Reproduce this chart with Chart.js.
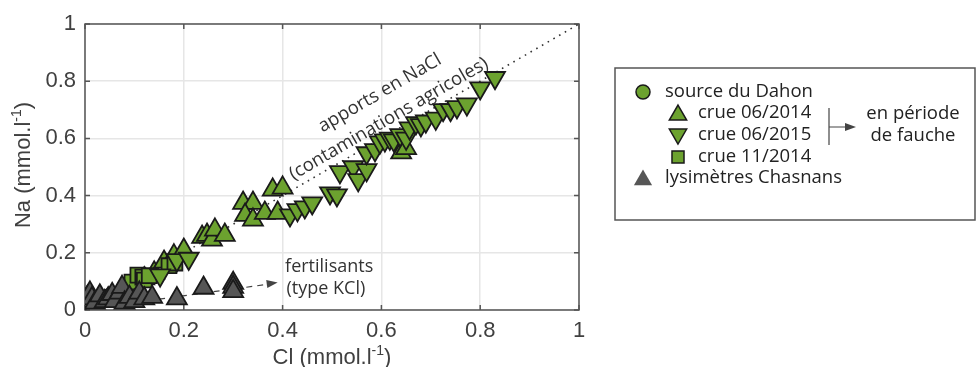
<!DOCTYPE html>
<html>
<head>
<meta charset="utf-8">
<script src="https://cdn.jsdelivr.net/npm/chart.js@4.4.0/dist/chart.umd.min.js"></script>
<style>
  html, body { margin: 0; padding: 0; background: #fff; }
  #wrap { width: 977px; height: 367px; }
</style>
</head>
<body>
<div id="wrap"><canvas id="chart" width="977" height="367"></canvas></div>
<script>
const xTicks = [0, 0.2, 0.4, 0.6, 0.8, 1];
const yTicks = [0, 0.2, 0.4, 0.6, 0.8, 1];

// 1:1 line (Na/Cl of NaCl)
const refCl = [0, 1];
const refNa = [0, 1];

// source du Dahon
const dahonCl = [0.01, 0.03, 0.05];
const dahonNa = [0.035, 0.04, 0.05];

// crue 06/2014
const up14Cl = [0.12, 0.14, 0.16, 0.18, 0.20, 0.237, 0.247, 0.257, 0.263, 0.283, 0.32, 0.34, 0.324, 0.34, 0.364, 0.39, 0.38, 0.40, 0.64, 0.65];
const up14Na = [0.11, 0.13, 0.168, 0.19, 0.21, 0.255, 0.262, 0.245, 0.28, 0.262, 0.374, 0.374, 0.332, 0.315, 0.339, 0.339, 0.42, 0.427, 0.55, 0.565];

// crue 06/2015
const down15Cl = [0.152, 0.186, 0.21, 0.415, 0.43, 0.445, 0.46, 0.496, 0.51, 0.516, 0.543, 0.553, 0.57, 0.57, 0.587, 0.597, 0.607, 0.617, 0.625, 0.638, 0.65, 0.657, 0.67, 0.68, 0.69, 0.71, 0.725, 0.74, 0.753, 0.773, 0.80, 0.83];
const down15Na = [0.122, 0.175, 0.18, 0.332, 0.35, 0.36, 0.374, 0.409, 0.402, 0.483, 0.50, 0.455, 0.49, 0.549, 0.56, 0.587, 0.594, 0.60, 0.594, 0.612, 0.60, 0.636, 0.654, 0.647, 0.66, 0.67, 0.70, 0.70, 0.71, 0.72, 0.776, 0.812];

// crue 11/2014
const nov14Cl = [0.095, 0.107, 0.117, 0.12, 0.13, 0.17, 0.182];
const nov14Na = [0.098, 0.122, 0.115, 0.105, 0.12, 0.155, 0.164];

// lysimètres Chasnans
const lysCl = [0.0, 0.005, 0.01, 0.014, 0.02, 0.03, 0.04, 0.047, 0.055, 0.06, 0.07, 0.075, 0.08, 0.09, 0.10, 0.11, 0.12, 0.136, 0.186, 0.24, 0.30, 0.30, 0.30];
const lysNa = [0.03, 0.045, 0.06, 0.04, 0.025, 0.05, 0.03, 0.04, 0.055, 0.03, 0.06, 0.08, 0.025, 0.045, 0.03, 0.06, 0.04, 0.045, 0.04, 0.077, 0.094, 0.08, 0.065];

const green = '#6ca22f';
const gray = '#565656';
const edge = '#1a1a1a';
const textCol = '#404040';
const humanist = '"Open Sans", "Noto Sans", sans-serif';
const helv = '"Liberation Sans", Arial, sans-serif';

const toPts = (xs, ys) => xs.map((x, i) => ({ x: x, y: ys[i] }));

function withSup(ctx, main, sup, tail, x, y, size) {
    // draws "main" + superscript + "tail" centred at x
    ctx.font = size + 'px ' + helv;
    const w1 = ctx.measureText(main).width;
    const w3 = ctx.measureText(tail).width;
    ctx.font = Math.round(size * 0.65) + 'px ' + helv;
    const w2 = ctx.measureText(sup).width;
    let left = x - (w1 + w2 + w3) / 2;
    ctx.textAlign = 'left';
    ctx.font = size + 'px ' + helv;
    ctx.fillText(main, left, y);
    ctx.font = Math.round(size * 0.65) + 'px ' + helv;
    ctx.fillText(sup, left + w1, y - size * 0.4);
    ctx.font = size + 'px ' + helv;
    ctx.fillText(tail, left + w1 + w2, y);
}

const decorations = {
    id: 'decorations',
    beforeDatasetsDraw(chart) {
        const { ctx, chartArea: a, scales: { x, y } } = chart;
        ctx.save();
        // box + inward ticks
        ctx.strokeStyle = '#555';
        ctx.lineWidth = 1.5;
        ctx.strokeRect(a.left, a.top, a.right - a.left, a.bottom - a.top);
        ctx.beginPath();
        xTicks.forEach(v => {
            const px = x.getPixelForValue(v);
            ctx.moveTo(px, a.bottom); ctx.lineTo(px, a.bottom - 5);
            ctx.moveTo(px, a.top); ctx.lineTo(px, a.top + 5);
        });
        yTicks.forEach(v => {
            const py = y.getPixelForValue(v);
            ctx.moveTo(a.left, py); ctx.lineTo(a.left + 5, py);
            ctx.moveTo(a.right, py); ctx.lineTo(a.right - 5, py);
        });
        ctx.stroke();

        // dashed arrow towards "fertilisants"
        const x0 = x.getPixelForValue(0.15), y0 = y.getPixelForValue(0.038);
        const x1 = x.getPixelForValue(0.39), y1 = y.getPixelForValue(0.096);
        ctx.strokeStyle = '#444';
        ctx.lineWidth = 1.2;
        ctx.setLineDash([6, 5]);
        ctx.beginPath();
        ctx.moveTo(x0, y0);
        ctx.lineTo(x1 - 8, y1 + 1.5);
        ctx.stroke();
        ctx.setLineDash([]);
        const ang = Math.atan2(y1 - y0, x1 - x0);
        ctx.fillStyle = '#444';
        ctx.beginPath();
        ctx.moveTo(x1, y1);
        ctx.lineTo(x1 - 11 * Math.cos(ang) + 4 * Math.sin(ang), y1 - 11 * Math.sin(ang) - 4 * Math.cos(ang));
        ctx.lineTo(x1 - 11 * Math.cos(ang) - 4 * Math.sin(ang), y1 - 11 * Math.sin(ang) + 4 * Math.cos(ang));
        ctx.closePath();
        ctx.fill();
        ctx.restore();
    },
    afterDraw(chart) {
        const { ctx, chartArea: a, scales: { x, y } } = chart;
        ctx.save();
        ctx.fillStyle = textCol;
        ctx.textBaseline = 'alphabetic';

        // axis titles
        withSup(ctx, 'Cl (mmol.l', '-1', ')', (a.left + a.right) / 2, 364, 22);
        ctx.save();
        ctx.translate(30, (a.top + a.bottom) / 2 - 2);
        ctx.rotate(-Math.PI / 2);
        withSup(ctx, 'Na (mmol.l', '-1', ')', 0, 0, 22);
        ctx.restore();

        // annotations
        ctx.fillStyle = '#333';
        ctx.font = '18.5px ' + humanist;
        ctx.textAlign = 'center';
        ctx.textBaseline = 'middle';
        const slope = Math.atan2(y.getPixelForValue(1) - y.getPixelForValue(0), x.getPixelForValue(1) - x.getPixelForValue(0));
        [['apports en NaCl', 0.597, 0.758], ['(contaminations agricoles)', 0.615, 0.668]].forEach(([t, vx, vy]) => {
            ctx.save();
            ctx.translate(x.getPixelForValue(vx), y.getPixelForValue(vy));
            ctx.rotate(slope);
            ctx.fillText(t, 0, 0);
            ctx.restore();
        });
        ctx.textAlign = 'left';
        ctx.font = '18px ' + humanist;
        ctx.fillText('fertilisants', x.getPixelForValue(0.405), y.getPixelForValue(0.150));
        ctx.fillText('(type KCl)', x.getPixelForValue(0.408), y.getPixelForValue(0.073));

        // legend
        const box = { l: 615, t: 68, r: 975, b: 220 };
        ctx.strokeStyle = '#555';
        ctx.lineWidth = 1.5;
        ctx.strokeRect(box.l, box.t, box.r - box.l, box.b - box.t);
        const items = [
            { label: 'source du Dahon', style: 'circle', rot: 0, r: 7, fill: green, mx: 643, tx: 665, ty: 92 },
            { label: 'crue 06/2014', style: 'triangle', rot: 0, r: 10, fill: green, mx: 678, tx: 698, ty: 113 },
            { label: 'crue 06/2015', style: 'triangle', rot: 180, r: 10, fill: green, mx: 678, tx: 698, ty: 135 },
            { label: 'crue 11/2014', style: 'rect', rot: 0, r: 8.5, fill: green, mx: 678, tx: 698, ty: 157 },
            { label: 'lysimètres Chasnans', style: 'triangle', rot: 0, r: 10.5, fill: gray, mx: 643, tx: 665, ty: 178, noEdge: true }
        ];
        ctx.font = '18.5px ' + humanist;
        ctx.textBaseline = 'middle';
        items.forEach(it => {
            ctx.fillStyle = it.fill;
            ctx.strokeStyle = edge;
            Chart.helpers.drawPoint(ctx, { pointStyle: it.style, radius: it.r, rotation: it.rot, borderWidth: it.noEdge ? 0 : 1.8 },
                it.mx, it.ty + (it.style === 'triangle' ? (it.rot ? -1 : 2) : 0));
            ctx.fillStyle = '#222';
            ctx.fillText(it.label, it.tx, it.ty);
        });
        // bracket + arrow
        ctx.strokeStyle = '#444';
        ctx.lineWidth = 1.2;
        ctx.beginPath();
        ctx.moveTo(829, 108); ctx.lineTo(829, 145);
        ctx.moveTo(829, 127); ctx.lineTo(847, 127);
        ctx.stroke();
        ctx.fillStyle = '#444';
        ctx.beginPath();
        ctx.moveTo(856, 127); ctx.lineTo(845, 123); ctx.lineTo(845, 131);
        ctx.closePath();
        ctx.fill();
        ctx.fillStyle = '#222';
        ctx.textAlign = 'center';
        ctx.fillText('en période', 913, 114);
        ctx.fillText('de fauche', 913, 136);
        ctx.restore();
    }
};

const markerBase = { borderColor: edge, borderWidth: 1.8, pointHoverRadius: 10 };

new Chart(document.getElementById('chart').getContext('2d'), {
    type: 'scatter',
    data: {
        datasets: [
            { label: 'lysimètres Chasnans', data: toPts(lysCl, lysNa), pointStyle: 'triangle', pointRadius: 11.5,
              backgroundColor: gray, ...markerBase, order: 1 },
            { label: 'crue 06/2015', data: toPts(down15Cl, down15Na), pointStyle: 'triangle', pointRotation: 180, pointRadius: 11.5,
              backgroundColor: green, ...markerBase, order: 2 },
            { label: 'crue 11/2014', data: toPts(nov14Cl, nov14Na), pointStyle: 'rect', pointRadius: 10.5,
              backgroundColor: green, ...markerBase, order: 3 },
            { label: 'crue 06/2014', data: toPts(up14Cl, up14Na), pointStyle: 'triangle', pointRadius: 11.5,
              backgroundColor: green, ...markerBase, order: 4 },
            { label: 'source du Dahon', data: toPts(dahonCl, dahonNa), pointStyle: 'circle', pointRadius: 7,
              backgroundColor: green, ...markerBase, order: 5 },
            { label: '1:1', data: toPts(refCl, refNa), showLine: true, pointRadius: 0, borderColor: '#333',
              borderWidth: 1.6, borderDash: [1.6, 5], order: 6 }
        ]
    },
    options: {
        responsive: false,
        animation: false,
        devicePixelRatio: 1,
        layout: { padding: { top: 24, right: 398, left: 0, bottom: 0 } },
        plugins: { legend: { display: false }, tooltip: { enabled: false } },
        scales: {
            x: {
                type: 'linear', min: 0, max: 1,
                afterFit: s => { s.height = 57; },
                afterBuildTicks: s => { s.ticks = xTicks.map(v => ({ value: v })); },
                grid: { color: '#e6e6e6', lineWidth: 1.5, drawTicks: false },
                border: { display: false },
                ticks: { color: textCol, padding: 8, font: { family: helv, size: 22 },
                         callback: v => String(+v.toFixed(1)) }
            },
            y: {
                type: 'linear', min: 0, max: 1,
                afterFit: s => { s.width = 85; },
                afterBuildTicks: s => { s.ticks = yTicks.map(v => ({ value: v })); },
                grid: { color: '#e6e6e6', lineWidth: 1.5, drawTicks: false },
                border: { display: false },
                ticks: { color: textCol, padding: 9, font: { family: helv, size: 22 },
                         callback: v => String(+v.toFixed(1)) }
            }
        }
    },
    plugins: [decorations]
});
</script>
</body>
</html>
